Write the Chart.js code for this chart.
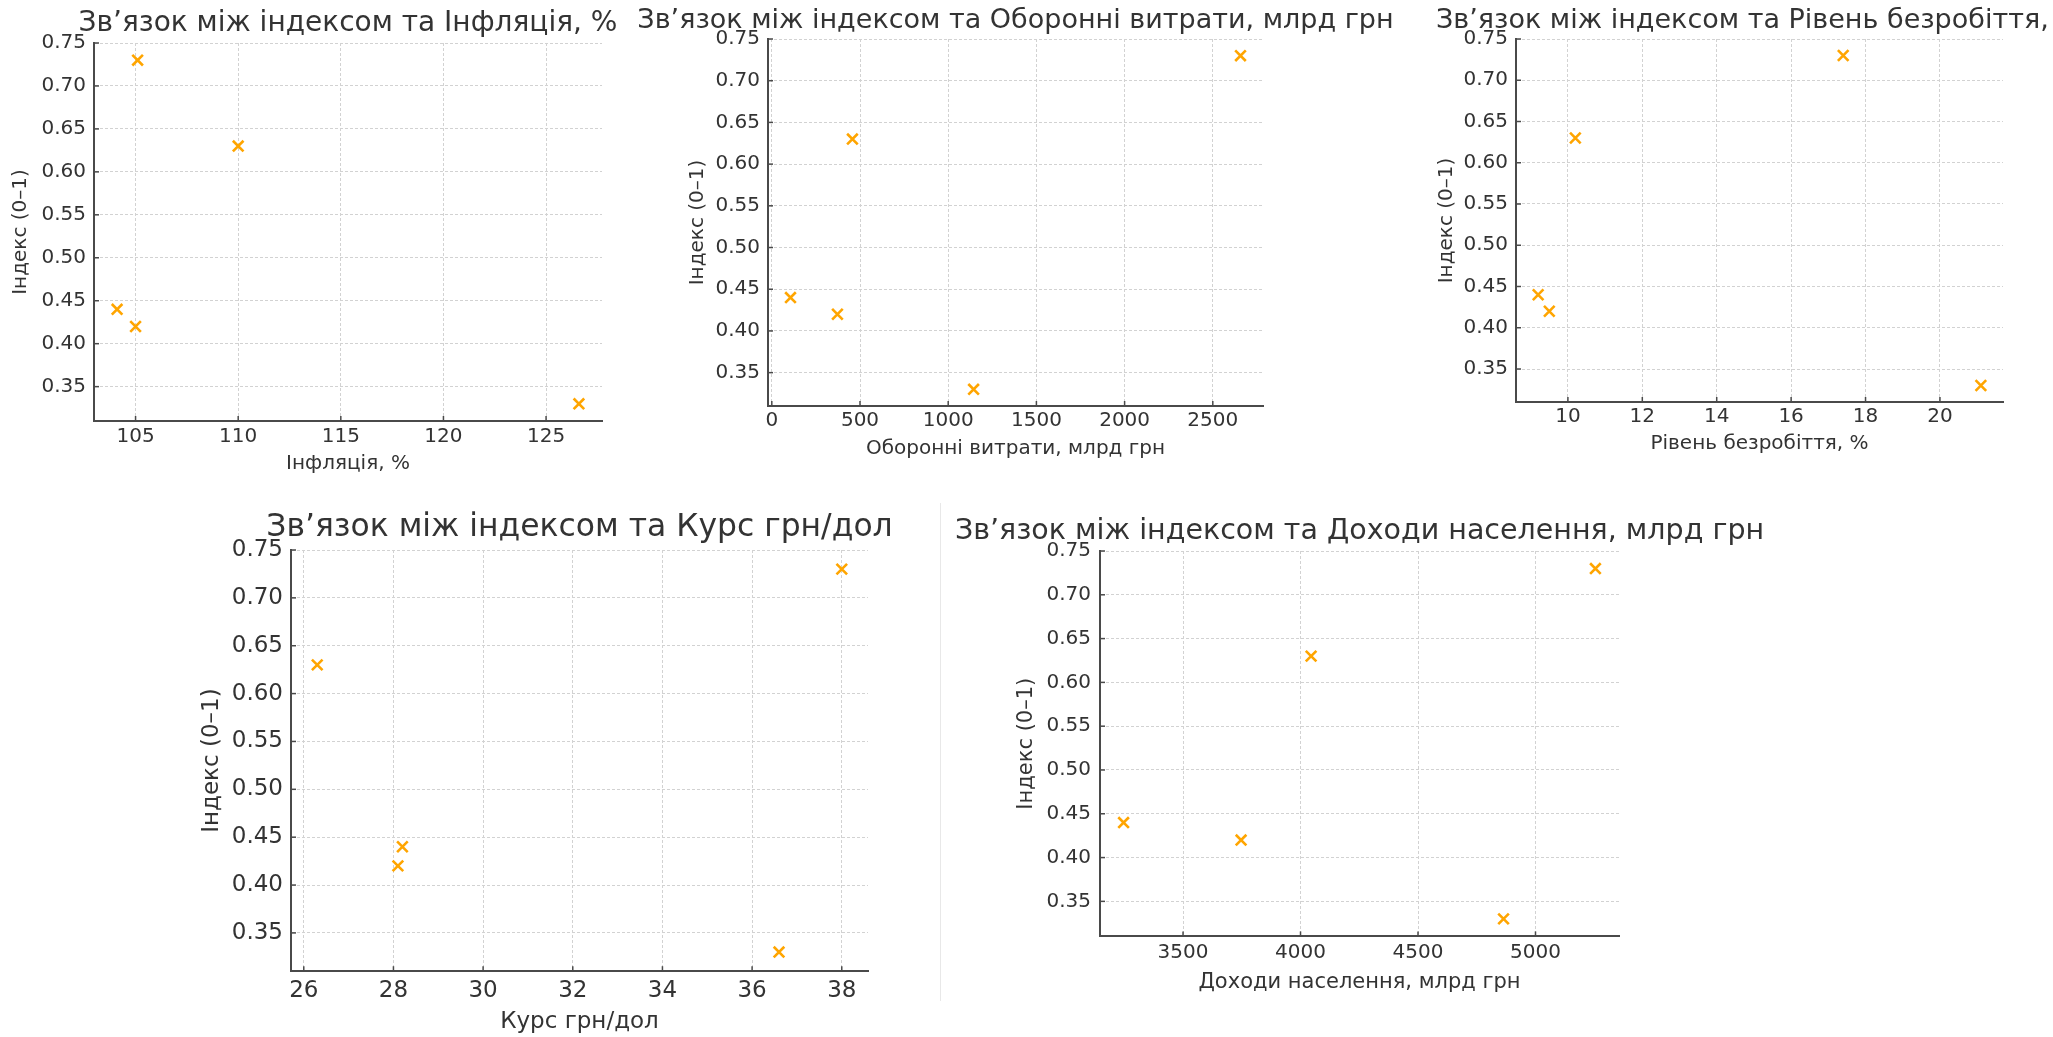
<!DOCTYPE html>
<html>
<head>
<meta charset="utf-8">
<script src="https://cdn.jsdelivr.net/npm/chart.js@4.4.1/dist/chart.umd.min.js"></script>
<style>
	html, body { margin: 0; padding: 0; background: #fff; }
	body { position: relative; width: 2053px; height: 1037px; overflow: hidden; }
	canvas { position: absolute; }
	#sep { position: absolute; left: 940px; top: 503px; width: 1px; height: 498px; background: #e8e8e8; }
</style>
</head>
<body>
<div id="sep"></div>
<canvas id="chInfl"></canvas>
<canvas id="chDef"></canvas>
<canvas id="chUnemp"></canvas>
<canvas id="chRate"></canvas>
<canvas id="chInc"></canvas>
<script>
// index values (same order in every chart)
const index_vals = [0.44, 0.42, 0.63, 0.33, 0.73];
const inflation = [104.1, 105.0, 110.0, 126.6, 105.1];
const defense = [106, 372, 457, 1144, 2657];
const unemployment = [9.2, 9.5, 10.2, 21.1, 17.4];
const exchange_rate = [28.2, 28.1, 26.3, 36.6, 38.0];
const income = [3247, 3747, 4045, 4864, 5255];

const y_ticks = [0.35, 0.40, 0.45, 0.50, 0.55, 0.60, 0.65, 0.70, 0.75];
const inflation_ticks = [105, 110, 115, 120, 125];
const defense_ticks = [0, 500, 1000, 1500, 2000, 2500];
const unemployment_ticks = [10, 12, 14, 16, 18, 20];
const rate_ticks = [26, 28, 30, 32, 34, 36, 38];
const income_ticks = [3500, 4000, 4500, 5000];

const ORANGE = '#FFA500';
const GRID = '#d2d2d2';
const SPINE = '#4a4a4a';
const TEXT = '#333333';

Chart.defaults.font.family = "'DejaVu Sans', sans-serif";
Chart.defaults.color = TEXT;

// page placement of every panel (plot box L/T/R/B, text centres)
const boxes = {
	infl:  { cl: 0,    cr: 640,  ct: 0,   L: 94,   R: 602,  T: 43,  B: 421, titleY: 24,  ytx: 21,   xty: 464,  fTitle: 28,   fAxis: 20, fTick: 20, xPad: 4, yPad: 8 },
	def:   { cl: 620,  cr: 1430, ct: 0,   L: 768,  R: 1263, T: 39,  B: 406, titleY: 21,  ytx: 698,  xty: 449,  fTitle: 27,   fAxis: 20, fTick: 20, xPad: 3, yPad: 8 },
	unemp: { cl: 1420, cr: 2100, ct: 0,   L: 1516, R: 2003, T: 39,  B: 402, titleY: 21,  ytx: 1447, xty: 444,  fTitle: 27,   fAxis: 20, fTick: 20, xPad: 3, yPad: 8 },
	rate:  { cl: 180,  cr: 940,  ct: 490, L: 291,  R: 868,  T: 550, B: 972, titleY: 528, ytx: 212,  xty: 1023, fTitle: 31.4, fAxis: 23, fTick: 23, xPad: 6, yPad: 8 },
	inc:   { cl: 940,  cr: 1800, ct: 490, L: 1100, R: 1619, T: 551, B: 937, titleY: 532, ytx: 1027, xty: 983,  fTitle: 28.5, fAxis: 21, fTick: 20, xPad: 4, yPad: 9 }
};

// matplotlib style 5% margin
function limits(arr) {
	const lo = Math.min(...arr), hi = Math.max(...arr);
	const m = (hi - lo) * 0.05;
	return [lo - m, hi + m];
}

function makeChart(id, xs, xTicks, xTitle, title, b) {
	const canvas = document.getElementById(id);
	const xh = b.xty + b.fAxis * 0.6 - b.B;
	const cw = b.cr - b.cl;
	const ch = b.B + xh - b.ct;
	canvas.width = cw;
	canvas.height = ch;
	canvas.style.left = b.cl + 'px';
	canvas.style.top = b.ct + 'px';

	const [xmin, xmax] = limits(xs);
	const [ymin, ymax] = limits(index_vals);

	const decor = {
		id: 'decor_' + id,
		afterDraw(chart) {
			const ctx = chart.ctx;
			const a = chart.chartArea;
			const sx = chart.scales.x, sy = chart.scales.y;
			ctx.save();
			ctx.strokeStyle = SPINE;
			ctx.lineWidth = 1.5;
			sx.ticks.forEach(t => {
				const px = sx.getPixelForValue(t.value);
				ctx.beginPath(); ctx.moveTo(px, a.bottom); ctx.lineTo(px, a.bottom - 5); ctx.stroke();
			});
			sy.ticks.forEach(t => {
				const py = sy.getPixelForValue(t.value);
				ctx.beginPath(); ctx.moveTo(a.left, py); ctx.lineTo(a.left + 5, py); ctx.stroke();
			});
			ctx.fillStyle = TEXT;
			ctx.font = b.fTitle + "px 'DejaVu Sans'";
			ctx.textAlign = 'center';
			ctx.textBaseline = 'middle';
			ctx.fillText(title, (a.left + a.right) / 2, b.titleY - b.ct);
			ctx.restore();
		}
	};

	return new Chart(canvas.getContext('2d'), {
		type: 'scatter',
		data: {
			datasets: [{
				data: xs.map((v, i) => ({ x: v, y: index_vals[i] })),
				pointStyle: 'crossRot',
				pointRadius: 7.5,
				pointHoverRadius: 7.5,
				borderColor: ORANGE,
				backgroundColor: ORANGE,
				borderWidth: 2.6
			}]
		},
		options: {
			responsive: false,
			animation: false,
			layout: { padding: { left: 0, top: b.T - b.ct, right: b.cr - b.R, bottom: 0 } },
			plugins: {
				legend: { display: false },
				tooltip: { enabled: false }
			},
			scales: {
				x: {
					type: 'linear',
					position: 'bottom',
					min: xmin,
					max: xmax,
					afterBuildTicks: s => { s.ticks = xTicks.map(v => ({ value: v })); },
					afterFit: s => { s.height = xh; },
					ticks: { font: { size: b.fTick }, color: TEXT, padding: b.xPad, maxRotation: 0, autoSkip: false, callback: v => String(v) },
					grid: { color: GRID, lineWidth: 1, drawTicks: false },
					border: { color: SPINE, width: 2, dash: [3, 2] },
					title: { display: true, text: xTitle, font: { size: b.fAxis }, color: TEXT, padding: 0 }
				},
				y: {
					type: 'linear',
					position: 'left',
					min: ymin,
					max: ymax,
					afterBuildTicks: s => { s.ticks = y_ticks.map(v => ({ value: v })); },
					afterFit: s => { s.width = b.L - b.cl; },
					ticks: { font: { size: b.fTick }, color: TEXT, padding: b.yPad, autoSkip: false, callback: v => v.toFixed(2) },
					grid: { color: GRID, lineWidth: 1, drawTicks: false },
					border: { color: SPINE, width: 2, dash: [3, 2] },
					title: { display: true, text: 'Індекс (0–1)', font: { size: b.fAxis }, color: TEXT, padding: { top: b.ytx - b.cl - b.fAxis * 0.6, bottom: 0 } }
				}
			}
		},
		plugins: [decor]
	});
}

makeChart('chInfl', inflation, inflation_ticks, 'Інфляція, %', 'Зв’язок між індексом та Інфляція, %', boxes.infl);
makeChart('chDef', defense, defense_ticks, 'Оборонні витрати, млрд грн', 'Зв’язок між індексом та Оборонні витрати, млрд грн', boxes.def);
makeChart('chUnemp', unemployment, unemployment_ticks, 'Рівень безробіття, %', 'Зв’язок між індексом та Рівень безробіття, %', boxes.unemp);
makeChart('chRate', exchange_rate, rate_ticks, 'Курс грн/дол', 'Зв’язок між індексом та Курс грн/дол', boxes.rate);
makeChart('chInc', income, income_ticks, 'Доходи населення, млрд грн', 'Зв’язок між індексом та Доходи населення, млрд грн', boxes.inc);
</script>
</body>
</html>
